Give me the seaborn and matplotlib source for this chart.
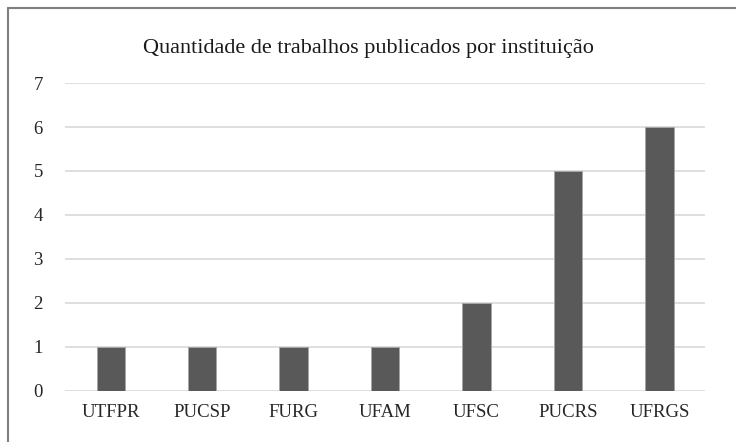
import matplotlib
matplotlib.use('Agg')
import matplotlib.pyplot as plt
import seaborn as sns
import pandas as pd
from matplotlib.lines import Line2D

instituicoes = ['UTFPR', 'PUCSP', 'FURG', 'UFAM', 'UFSC', 'PUCRS', 'UFRGS']
trabalhos = [1, 1, 1, 1, 2, 5, 6]

sns.set_style('white')
plt.rcParams['font.family'] = ['Liberation Serif', 'DejaVu Serif']

df = pd.DataFrame({'inst': instituicoes, 'n': trabalhos})

fig = plt.figure(figsize=(7.36, 4.42), dpi=100)
ax = fig.add_axes([0.0883, 0.1165, 0.8697, 0.6955])

sns.barplot(data=df, x='inst', y='n', color='#595959', width=0.31,
            saturation=1, edgecolor='#a6a6a6', linewidth=0.6, ax=ax, zorder=3)

ax.set_ylim(0, 7)
ax.set_yticks(range(0, 8))
ax.grid(axis='y', color='#d9d9d9', linewidth=1.2, zorder=0)
ax.grid(axis='x', visible=False)
for s in ax.spines.values():
    s.set_visible(False)
ax.tick_params(axis='both', length=0, labelsize=13.5, colors='#262626')
ax.tick_params(axis='y', pad=16)
ax.tick_params(axis='x', pad=10)
ax.set_xlabel('')
ax.set_ylabel('')

fig.text(0.5, 0.891, 'Quantidade de trabalhos publicados por instituição',
         ha='center', va='center', fontsize=16, color='#1a1a1a')

# outer frame: only the top and left edges show in the reference
x0 = 7.5 / 736
y0 = 1 - 7.5 / 442
fig.add_artist(Line2D([x0, 1.01], [y0, y0], transform=fig.transFigure,
                      color='#7f7f7f', linewidth=1.5))
fig.add_artist(Line2D([x0, x0], [-0.01, y0], transform=fig.transFigure,
                      color='#7f7f7f', linewidth=1.5))

fig.savefig('out.png', dpi=100)
